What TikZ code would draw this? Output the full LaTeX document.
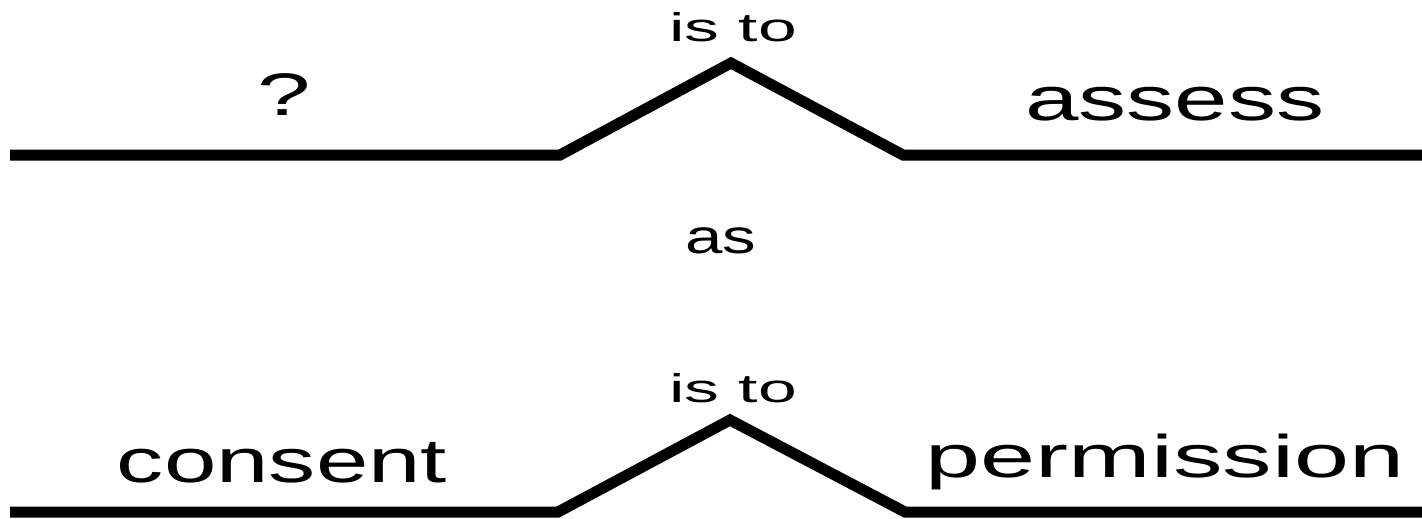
\documentclass[tikz,border=0pt]{standalone}
\usepackage{fontspec}
\setmainfont{Liberation Sans}
\tikzset{
  roof/.style={line width=11pt, line join=miter, line cap=butt, black},
  word/.style={anchor=base, inner sep=0pt, outer sep=0pt, text=black}
}
\newcommand{\stretchword}[3]{\scalebox{#2}[1]{\fontsize{#1}{#1}\selectfont #3}}
\begin{document}
\begin{tikzpicture}[x=1pt,y=-1pt]
\useasboundingbox (0,0) rectangle (1422,519);
% top row
\coordinate (t0) at (10,155);
\coordinate (t1) at (560,155);
\coordinate (t2) at (731,63);
\coordinate (t3) at (903,155);
\coordinate (t4) at (1422,155);
\draw[roof] (t0) -- (t1) -- (t2) -- (t3) -- (t4);
% bottom row
\coordinate (b0) at (10,512);
\coordinate (b1) at (558,512);
\coordinate (b2) at (730,420);
\coordinate (b3) at (905,512);
\coordinate (b4) at (1422,512);
\draw[roof] (b0) -- (b1) -- (b2) -- (b3) -- (b4);
% texts
\node[word] (q) at (284,115) {\stretchword{60}{1.6}{?}};
\node[word] (assess) at (1175,121) {\stretchword{62}{1.55}{assess}};
\node[word] (isto1) at (733,42) {\stretchword{40}{1.74}{is to}};
\node[word] (as) at (721,253) {\stretchword{48}{1.4}{as}};
\node[word] (isto2) at (733,402) {\stretchword{40}{1.74}{is to}};
\node[word] (consent) at (282,482) {\stretchword{62}{1.52}{consent}};
\node[word] (perm) at (1165,477) {\stretchword{60}{1.65}{permission}};
\end{tikzpicture}
\end{document}
